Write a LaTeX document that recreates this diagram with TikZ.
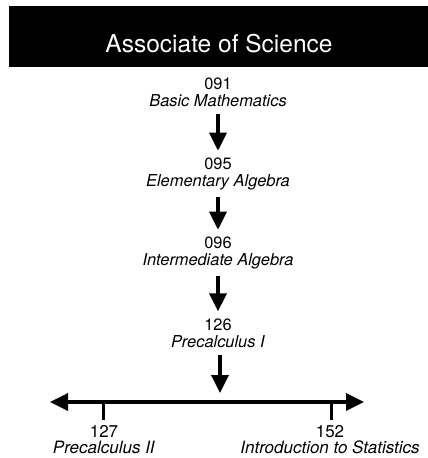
\documentclass[tikz,border=0pt]{standalone}
\usepackage{fontspec}
\setmainfont{TeX Gyre Heros}
\usetikzlibrary{arrows.meta}
\begin{document}
\begin{tikzpicture}[x=1pt,y=-1pt,
  course/.style={align=center,inner sep=1pt,font=\fontsize{16.4}{17}\selectfont},
  lowcourse/.style={course,inner sep=0pt,font=\fontsize{17}{16.5}\selectfont},
  flow/.style={line width=3.5pt,-{Triangle[length=18pt,width=17pt]}},
  tick/.style={line width=3pt}]
\useasboundingbox (0,0) rectangle (428,458);
\fill[black] (9,6) rectangle (428,67);
\node[text=white,font=\fontsize{24.5}{28}\selectfont] (title) at (219,44) {Associate of Science};
\node[course] (c091) at (218,92.5) {091\\\textit{Basic Mathematics}};
\node[course] (c095) at (218,174) {095\\\textit{Elementary Algebra}};
\node[course] (c096) at (218,253) {096\\\textit{Intermediate Algebra}};
\node[course] (c126) at (218,333) {126\\\textit{Precalculus I}};
\coordinate (L) at (50,402);
\coordinate (R) at (364,402);
\coordinate (M) at (220,402);
\coordinate (T1) at (103,402);
\coordinate (T2) at (331,402);
\coordinate (T1b) at (103,420);
\coordinate (T2b) at (331,420);
\node[lowcourse] (c127) at (104,439.5) {127\\\textit{Precalculus II}};
\node[lowcourse] (c152) at (330,439.5) {152\\\textit{Introduction to Statistics}};
\draw[flow,shorten <=6pt,shorten >=6pt] (c091) -- (c095);
\draw[flow,shorten <=6pt,shorten >=6pt] (c095) -- (c096);
\draw[flow,shorten <=6pt,shorten >=6pt] (c096) -- (c126);
\draw[flow,shorten <=6pt,shorten >=9pt] (c126.south -| M) -- (M);
\draw[line width=3.5pt,{Triangle[length=18pt,width=17pt]}-{Triangle[length=18pt,width=17pt]}] (L) -- (R);
\draw[tick] (T1) -- (T1b);
\draw[tick] (T2) -- (T2b);
\end{tikzpicture}
\end{document}
